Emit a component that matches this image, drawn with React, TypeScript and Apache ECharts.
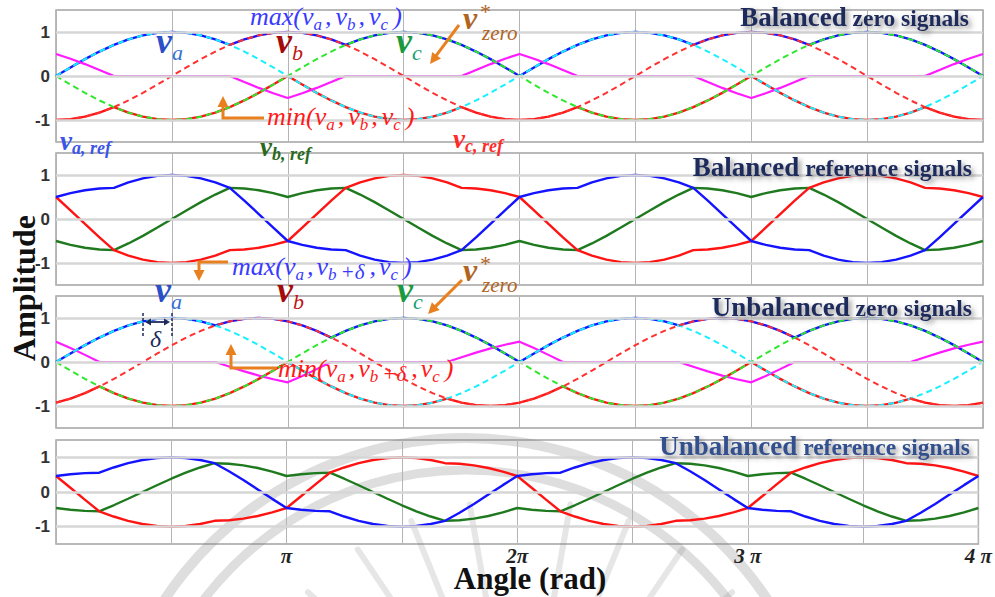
import React, { useEffect, useRef } from 'react';
import * as echarts from 'echarts';

// Samples every π/16 from 0 to 4π; the x axis is expressed in units of π.
const ANGLE_STEP = 1 / 16;

// Phase signals (balanced set)
const va = [
  0, 0.195, 0.383, 0.556, 0.707, 0.831, 0.924, 0.981, 1, 0.981, 0.924, 0.831, 0.707, 0.556, 0.383, 0.195, 0,
  -0.195, -0.383, -0.556, -0.707, -0.831, -0.924, -0.981, -1, -0.981, -0.924, -0.831, -0.707, -0.556, -0.383, -0.195, 0,
  0.195, 0.383, 0.556, 0.707, 0.831, 0.924, 0.981, 1, 0.981, 0.924, 0.831, 0.707, 0.556, 0.383, 0.195, 0,
  -0.195, -0.383, -0.556, -0.707, -0.831, -0.924, -0.981, -1, -0.981, -0.924, -0.831, -0.707, -0.556, -0.383, -0.195, 0,
];
const vb = [
  -1, -0.981, -0.924, -0.831, -0.707, -0.556, -0.383, -0.195, 0, 0.195, 0.383, 0.556, 0.707, 0.831, 0.924, 0.981, 1,
  0.981, 0.924, 0.831, 0.707, 0.556, 0.383, 0.195, 0, -0.195, -0.383, -0.556, -0.707, -0.831, -0.924, -0.981, -1,
  -0.981, -0.924, -0.831, -0.707, -0.556, -0.383, -0.195, 0, 0.195, 0.383, 0.556, 0.707, 0.831, 0.924, 0.981, 1,
  0.981, 0.924, 0.831, 0.707, 0.556, 0.383, 0.195, 0, -0.195, -0.383, -0.556, -0.707, -0.831, -0.924, -0.981, -1,
];
const vc = [
  0, -0.195, -0.383, -0.556, -0.707, -0.831, -0.924, -0.981, -1, -0.981, -0.924, -0.831, -0.707, -0.556, -0.383, -0.195, 0,
  0.195, 0.383, 0.556, 0.707, 0.831, 0.924, 0.981, 1, 0.981, 0.924, 0.831, 0.707, 0.556, 0.383, 0.195, 0,
  -0.195, -0.383, -0.556, -0.707, -0.831, -0.924, -0.981, -1, -0.981, -0.924, -0.831, -0.707, -0.556, -0.383, -0.195, 0,
  0.195, 0.383, 0.556, 0.707, 0.831, 0.924, 0.981, 1, 0.981, 0.924, 0.831, 0.707, 0.556, 0.383, 0.195, 0,
];
// Phase b advanced by δ (unbalanced set)
const vbDelta = [
  -0.924, -0.831, -0.707, -0.556, -0.383, -0.195, 0, 0.195, 0.383, 0.556, 0.707, 0.831, 0.924, 0.981, 1,
  0.981, 0.924, 0.831, 0.707, 0.556, 0.383, 0.195, 0, -0.195, -0.383, -0.556, -0.707, -0.831, -0.924, -0.981, -1,
  -0.981, -0.924, -0.831, -0.707, -0.556, -0.383, -0.195, 0, 0.195, 0.383, 0.556, 0.707, 0.831, 0.924, 0.981, 1,
  0.981, 0.924, 0.831, 0.707, 0.556, 0.383, 0.195, 0, -0.195, -0.383, -0.556, -0.707, -0.831, -0.924, -0.981, -1,
  -0.981, -0.924,
];

const xTickValues = [1, 2, 3, 4];
const xTickLabels = ['π', '2π', '3 π', '4 π'];
const yGridValues = [-1, 0, 1];
const panelTitles = [
  ['Balanced', ' zero signals'],
  ['Balanced', ' reference signals'],
  ['Unbalanced', ' zero signals'],
  ['Unbalanced', ' reference signals'],
];

// ---- derived signals: envelopes, zero-sequence and reference signals
const angles = va.map((_, i) => i * ANGLE_STEP);
function zeroSet(a: number[], b: number[], c: number[]) {
  const hi = a.map((v, i) => Math.max(v, b[i], c[i]));
  const lo = a.map((v, i) => Math.min(v, b[i], c[i]));
  const zero = hi.map((h, i) => -(h + lo[i]) / 2);
  return {
    hi, lo, zero,
    ra: a.map((v, i) => v + zero[i]),
    rb: b.map((v, i) => v + zero[i]),
    rc: c.map((v, i) => v + zero[i]),
  };
}
const bal = zeroSet(va, vb, vc);
const unb = zeroSet(va, vbDelta, vc);

const pts = (ys: number[]) => ys.map((y, i) => [angles[i], Math.round(y * 10000) / 10000]);

const BLUE = '#1414ff';
const RED = '#ff1414';
const MAGENTA = '#ff1aff';
const CYAN = '#19f0ff';
const LGREEN = '#2ee82e';
const DGREEN = '#1f7a1f';
const ORANGE = '#e9801f';
const NAVY = '#1c2a5c';
const SERIF = '"Liberation Serif", "Times New Roman", serif';
const SANS = '"Liberation Sans", Arial, sans-serif';

const solid = (g: number, d: number[], color: string, width = 2.4, z = 2) => ({
  type: 'line', xAxisIndex: g, yAxisIndex: g, data: pts(d), symbol: 'none', silent: true, z,
  lineStyle: { color, width, type: 'solid' },
});
const dashed = (g: number, d: number[], color: string) => ({
  type: 'line', xAxisIndex: g, yAxisIndex: g, data: pts(d), symbol: 'none', silent: true, z: 4,
  lineStyle: { color, width: 2, type: [6, 4] },
});
const gridLines = (g: number) => ({
  type: 'line', xAxisIndex: g, yAxisIndex: g, data: [[0, 0]], symbol: 'none', silent: true, z: 1,
  lineStyle: { opacity: 0 },
  markLine: {
    silent: true, symbol: ['none', 'none'], label: { show: false },
    lineStyle: { color: '#d6d6d6', width: 2.5, type: 'solid' },
    data: yGridValues.map((v) => ({ yAxis: v })),
  },
});

// ---- text helpers
let measureCtx: CanvasRenderingContext2D | null = null;
function measure(text: string, font: string) {
  if (!measureCtx) measureCtx = document.createElement('canvas').getContext('2d');
  measureCtx!.font = font;
  return measureCtx!.measureText(text).width;
}
type Run = { t: string; size: number; dy?: number; color?: string; bold?: boolean; italic?: boolean; gap?: number };
type RunOpts = { color: string; italic?: boolean; bold?: boolean; shadow?: boolean; family?: string };
function fontOf(r: Run, o: RunOpts) {
  const it = r.italic ?? o.italic ?? true;
  const bd = r.bold ?? o.bold ?? false;
  return `${it ? 'italic' : 'normal'} ${bd ? 'bold' : 'normal'} ${r.size}px ${o.family || SERIF}`;
}
function runsWidth(list: Run[], o: RunOpts) {
  return list.reduce((s, r) => s + measure(r.t, fontOf(r, o)) + (r.gap || 0), 0);
}
function textRuns(x: number, baseline: number, list: Run[], o: RunOpts) {
  const els: any[] = [];
  let cx = x;
  for (const r of list) {
    const font = fontOf(r, o);
    const style: any = {
      text: r.t, font, fill: r.color || o.color, align: 'left', verticalAlign: 'middle',
      lineHeight: Math.round(r.size * 0.8),
    };
    if (o.shadow) {
      style.textShadowColor = 'rgba(60,60,60,0.55)';
      style.textShadowBlur = 5;
      style.textShadowOffsetX = 3;
      style.textShadowOffsetY = 3;
    }
    els.push({ type: 'text', x: cx, y: baseline + (r.dy || 0) - 0.34 * r.size, z: 100, silent: true, style });
    cx += measure(r.t, font) + (r.gap || 0);
  }
  return els;
}
function arrow(points: number[][], color: string, width = 3, head = 11, half = 5.5) {
  const n = points.length;
  const [x1, y1] = points[n - 2];
  const [x2, y2] = points[n - 1];
  const len = Math.hypot(x2 - x1, y2 - y1);
  const ux = (x2 - x1) / len, uy = (y2 - y1) / len;
  const bx = x2 - ux * head, by = y2 - uy * head;
  return [
    { type: 'polyline', z: 100, silent: true, shape: { points: [...points.slice(0, n - 1), [bx + ux, by + uy]] },
      style: { stroke: color, lineWidth: width, fill: null, lineJoin: 'miter' } },
    { type: 'polygon', z: 100, silent: true,
      shape: { points: [[x2, y2], [bx - uy * half, by + ux * half], [bx + uy * half, by - ux * half]] },
      style: { fill: color } },
  ];
}
function phaseLabel(x: number, baseline: number, sub: string, c1: string, c2: string) {
  return textRuns(x, baseline, [
    { t: 'v', size: 36, bold: true, color: c1 },
    { t: sub, size: 22, dy: 7, color: c2 },
  ], { color: c1 });
}
function refLabel(x: number, baseline: number, sub: string, color: string) {
  return textRuns(x, baseline, [
    { t: 'v', size: 27, bold: true },
    { t: sub + ', ref', size: 18, bold: true, dy: 4 },
  ], { color });
}
function zeroLabel(x: number, baseline: number) {
  const c = '#b0641f';
  return [
    ...textRuns(x, baseline, [{ t: 'v', size: 32, bold: true }], { color: c }),
    ...textRuns(x + 17, baseline - 10, [{ t: '*', size: 22, italic: false }], { color: c }),
    ...textRuns(x + 19, baseline + 11, [{ t: 'zero', size: 21 }], { color: c }),
  ];
}
function envelopeText(x: number, baseline: number, fn: string, withDelta: boolean, color: string) {
  const sub = (t: string, gap = 3): Run => ({ t, size: 17, dy: 5, gap });
  const list: Run[] = [
    { t: fn + '(', size: 26 },
    { t: 'v', size: 26 }, sub('a'), { t: ',', size: 26, gap: withDelta ? 3 : 4 },
    { t: 'v', size: 26 }, sub('b', withDelta ? 4 : 3),
  ];
  if (withDelta) list.push({ t: '+δ', size: 21, dy: 4, gap: 5 });
  list.push({ t: ',', size: 26, gap: withDelta ? 3 : 4 }, { t: 'v', size: 26 }, sub('c', 5), { t: ')', size: 26 });
  return textRuns(x, baseline, list, { color });
}
function title(right: number, baseline: number, parts: string[], color: string) {
  const list: Run[] = [
    { t: parts[0], size: 27, bold: true, italic: false },
    { t: parts[1], size: 23.5, bold: true, italic: false },
  ];
  const o = { color, shadow: true };
  return textRuns(right - runsWidth(list, o), baseline, list, o);
}

function buildGraphic() {
  const wm = 'rgba(128,128,128,0.26)';
  const els: any[] = [];
  // faint emblem behind the lower panels
  els.push(
    { type: 'arc', z: 0, silent: true, shape: { cx: 466, cy: 800, r: 362, startAngle: -2.75, endAngle: -0.4, clockwise: true },
      style: { stroke: wm, lineWidth: 10, fill: null } },
    { type: 'arc', z: 0, silent: true, shape: { cx: 466, cy: 800, r: 330, startAngle: -2.75, endAngle: -0.4, clockwise: true },
      style: { stroke: wm, lineWidth: 9, fill: null } },
  );
  [-60, -47, -34, -22, -10, 10, 22, 34, 47, 60].forEach((deg) => {
    const a = (deg * Math.PI) / 180;
    const sx = Math.sin(a), sy = -Math.cos(a);
    els.push({ type: 'line', z: 0, silent: true,
      shape: { x1: 520 + sx * 175, y1: 790 + sy * 175, x2: 520 + sx * 290, y2: 790 + sy * 290 },
      style: { stroke: 'rgba(128,128,128,0.2)', lineWidth: 6, lineCap: 'round' } });
  });

  // panel titles
  els.push(...title(969, 26, panelTitles[0], NAVY));
  els.push(...title(972, 176, panelTitles[1], NAVY));
  els.push(...title(972, 316, panelTitles[2], NAVY));
  els.push(...title(970, 455, panelTitles[3], '#33508e'));

  // panel 1 annotations
  els.push(...envelopeText(250, 25, 'max', false, '#3a3aff'));
  els.push(...phaseLabel(156, 53, 'a', '#2a4fc8', '#3470d0'));
  els.push(...phaseLabel(276, 53, 'b', '#a30a0a', '#c01515'));
  els.push(...phaseLabel(396, 53, 'c', '#1a9a40', '#12a070'));
  els.push(...zeroLabel(463, 29));
  els.push(...arrow([[459, 25], [430, 64]], ORANGE));
  els.push(...envelopeText(267, 125, 'min', false, '#ff1a1a'));
  els.push(...arrow([[264, 118], [223, 118], [223, 96]], ORANGE));
  els.push(...refLabel(60, 150, 'a', '#3c55e6'));
  els.push(...refLabel(260, 156, 'b', '#2a6a20'));
  els.push(...refLabel(453, 148, 'c', '#ff2a2a'));

  // panel 2 annotations
  els.push(...envelopeText(232, 275, 'max', true, '#3a3aff'));
  els.push(...arrow([[228, 262], [199, 262], [199, 281]], ORANGE));
  els.push(...zeroLabel(463, 281));
  els.push(...arrow([[462, 280], [428, 314]], ORANGE));

  // panel 3 annotations
  els.push(...phaseLabel(155, 302, 'a', '#2a4fc8', '#3470d0'));
  els.push(...phaseLabel(277, 302, 'b', '#a30a0a', '#c01515'));
  els.push(...phaseLabel(397, 302, 'c', '#1a9a40', '#12a070'));
  [143, 172].forEach((x) => els.push({ type: 'line', z: 100, silent: true,
    shape: { x1: x, y1: 313, x2: x, y2: 338 }, style: { stroke: NAVY, lineWidth: 1.5, lineDash: [3, 2] } }));
  els.push(...arrow([[157, 322], [145, 322]], NAVY, 1.8, 6, 3.5));
  els.push(...arrow([[157, 322], [170, 322]], NAVY, 1.8, 6, 3.5));
  els.push(...textRuns(150, 347, [{ t: 'δ', size: 24 }], { color: NAVY }));
  els.push(...envelopeText(278, 377, 'min', true, '#ff1a1a'));
  els.push(...arrow([[277, 368], [231, 368], [231, 344]], ORANGE));

  // axis titles
  els.push({ type: 'text', x: 24, y: 288, rotation: Math.PI / 2, z: 100, silent: true,
    style: { text: 'Amplitude', font: `bold 32px ${SERIF}`, fill: '#111', align: 'center', verticalAlign: 'middle' } });
  els.push(...textRuns(530 - measure('Angle (rad)', `normal bold 31px ${SERIF}`) / 2, 589,
    [{ t: 'Angle (rad)', size: 31, bold: true, italic: false }], { color: '#111' }));
  return els;
}

const panels = [
  { top: 10, height: 132 },
  { top: 153, height: 132 },
  { top: 296, height: 132 },
  { top: 440, height: 104 },
];

export default function App() {
  const ref = useRef<HTMLDivElement>(null);
  useEffect(() => {
    if (!ref.current) return;
    const chart = echarts.init(ref.current, null, { renderer: 'svg' });
    const option: any = {
      animation: false,
      backgroundColor: '#ffffff',
      grid: panels.map((p) => ({
        left: 56, right: 12, top: p.top, height: p.height, show: true,
        borderColor: '#a3a3a3', borderWidth: 1.5, backgroundColor: 'transparent',
      })),
      xAxis: panels.map((_, g) => ({
        gridIndex: g, type: 'value', min: 0, max: 4, interval: 0.5,
        axisLine: { show: false }, axisTick: { show: false },
        splitLine: { show: true, lineStyle: { color: '#b4b4b4', width: 1 } },
        axisLabel: {
          show: g === 3, margin: 5, lineHeight: 13,
          fontFamily: SERIF, fontSize: 21, fontWeight: 'bold', fontStyle: 'italic', color: '#222',
          formatter: (v: number) => {
            const k = xTickValues.indexOf(v);
            return k >= 0 ? xTickLabels[k] : '';
          },
        },
      })),
      yAxis: panels.map((_, g) => ({
        gridIndex: g, type: 'value', min: -1.5, max: 1.5, interval: 0.5,
        axisLine: { show: false }, axisTick: { show: false }, splitLine: { show: false },
        axisLabel: {
          margin: 6, fontFamily: SANS, fontSize: 17, fontWeight: 'bold', color: '#333',
          formatter: (v: number) => (yGridValues.includes(v) ? String(v) : ''),
        },
      })),
      series: [
        gridLines(0), gridLines(1), gridLines(2), gridLines(3),
        // balanced zero-sequence signals
        solid(0, bal.hi, BLUE), solid(0, bal.lo, RED), solid(0, bal.zero, MAGENTA, 2.2, 3),
        dashed(0, va, CYAN), dashed(0, vb, '#ff3030'), dashed(0, vc, LGREEN),
        // balanced reference signals
        solid(1, bal.rb, DGREEN), solid(1, bal.rc, RED), solid(1, bal.ra, BLUE),
        // unbalanced zero-sequence signals
        solid(2, unb.hi, BLUE), solid(2, unb.lo, RED), solid(2, unb.zero, MAGENTA, 2.2, 3),
        dashed(2, va, CYAN), dashed(2, vbDelta, '#ff3030'), dashed(2, vc, LGREEN),
        // unbalanced reference signals
        solid(3, unb.rb, DGREEN), solid(3, unb.rc, RED), solid(3, unb.ra, BLUE),
      ],
      graphic: { elements: buildGraphic() },
    };
    chart.setOption(option);
    return () => chart.dispose();
  }, []);
  return <div ref={ref} style={{ width: 995, height: 597, position: 'absolute', left: 0, top: 0 }} />;
}
